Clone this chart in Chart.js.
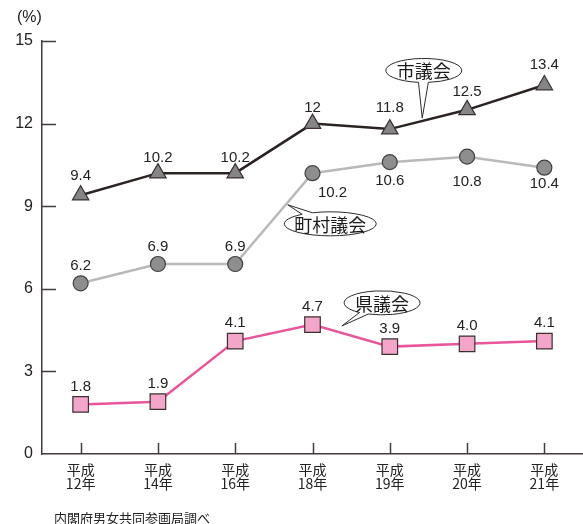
<!DOCTYPE html>
<html>
<head>
<meta charset="utf-8">
<script src="https://cdn.jsdelivr.net/npm/chart.js@4/dist/chart.umd.min.js"></script>
<style>
  html, body { margin: 0; padding: 0; background: #fff; }
</style>
</head>
<body>
<canvas id="c" width="583" height="524"></canvas>
<script>
const years = [['平成', '12年'], ['平成', '14年'], ['平成', '16年'], ['平成', '18年'], ['平成', '19年'], ['平成', '20年'], ['平成', '21年']];
const cityValues = [9.4, 10.2, 10.2, 12, 11.8, 12.5, 13.4];
const townValues = [6.2, 6.9, 6.9, 10.2, 10.6, 10.8, 10.4];
const prefValues = [1.8, 1.9, 4.1, 4.7, 3.9, 4.0, 4.1];
const yTicks = [0, 3, 6, 9, 12, 15];

const axisColor = '#453b3b';
const numFont = '"Liberation Sans", Arial, sans-serif';
const jpFont = '"Noto Sans CJK JP", sans-serif';

// callouts: label, centre (index, value), tip (index, value), half width
const callouts = [
    { text: '市議会', cx: 4.44, cy: 13.93, tx: 4.42, ty: 12.2, rx: 38 },
    { text: '町村議会', cx: 3.23, cy: 8.36, tx: 2.68, ty: 9.05, rx: 46 },
    { text: '県議会', cx: 3.9, cy: 5.49, tx: 3.38, ty: 4.65, rx: 38 }
];

const decor = {
    id: 'decor',
    beforeDatasetsDraw(chart) {
        const { ctx, chartArea, scales } = chart;
        ctx.save();
        ctx.strokeStyle = axisColor;
        ctx.lineWidth = 1.5;
        ctx.beginPath();
        yTicks.forEach(v => {
            if (v === 0) return;
            const y = Math.round(scales.y.getPixelForValue(v)) + 0.5;
            ctx.moveTo(chartArea.left, y);
            ctx.lineTo(chartArea.left + 14, y);
        });
        years.forEach((_, i) => {
            const x = Math.round(scales.x.getPixelForValue(i)) + 0.5;
            ctx.moveTo(x, chartArea.bottom);
            ctx.lineTo(x, chartArea.bottom - 11);
        });
        ctx.stroke();
        ctx.restore();
    },
    afterDatasetsDraw(chart) {
        const { ctx, scales } = chart;
        ctx.save();
        // value labels
        ctx.font = '15px ' + numFont;
        ctx.fillStyle = '#222';
        ctx.textAlign = 'center';
        ctx.textBaseline = 'middle';
        chart.data.datasets.forEach((ds, di) => {
            const meta = chart.getDatasetMeta(di);
            meta.data.forEach((pt, i) => {
                const v = ds.data[i];
                const txt = ds.fixed ? v.toFixed(1) : String(v);
                const off = ds.labelOffsets ? ds.labelOffsets[i] : [0, -18];
                ctx.fillText(txt, pt.x + off[0], pt.y + off[1]);
            });
        });
        // callout bubbles
        callouts.forEach(c => {
            const cx = scales.x.getPixelForValue(c.cx);
            const cy = scales.y.getPixelForValue(c.cy);
            const tx = scales.x.getPixelForValue(c.tx);
            const ty = scales.y.getPixelForValue(c.ty);
            const ry = 12;
            const ang = Math.atan2((ty - cy) / ry, (tx - cx) / c.rx);
            const a1 = ang - 0.13, a2 = ang + 0.13;
            ctx.beginPath();
            ctx.ellipse(cx, cy, c.rx, ry, 0, a2, a1 + Math.PI * 2);
            ctx.lineTo(tx, ty);
            ctx.closePath();
            ctx.fillStyle = '#fff';
            ctx.fill();
            ctx.strokeStyle = '#2a2a2a';
            ctx.lineWidth = 1;
            ctx.stroke();
            ctx.fillStyle = '#1a1a1a';
            ctx.font = '18px ' + jpFont;
            ctx.fillText(c.text, cx, cy + 1);
        });
        ctx.restore();
    },
    afterDraw(chart) {
        const { ctx } = chart;
        ctx.save();
        ctx.fillStyle = '#222';
        ctx.textBaseline = 'middle';
        ctx.font = '16px ' + numFont;
        ctx.fillText('(%)', 17, 18);
        ctx.font = '13px ' + jpFont;
        ctx.fillText('内閣府男女共同参画局調べ', 54, 518);
        ctx.restore();
    }
};

new Chart(document.getElementById('c'), {
    type: 'line',
    data: {
        labels: years,
        datasets: [{
            label: '県議会',
            data: prefValues,
            fixed: true,
            borderColor: '#e8559a',
            borderWidth: 2.5,
            pointStyle: 'rect',
            pointRadius: 11,
            pointBackgroundColor: '#f3a6c9',
            pointBorderColor: '#3a3030',
            pointBorderWidth: 1.2,
            tension: 0,
        }, {
            label: '町村議会',
            data: townValues,
            labelOffsets: [[0, -17], [0, -17], [0, -17], [20, 20], [0, 19], [0, 25], [0, 16]],
            borderColor: '#b9b9b9',
            borderWidth: 2.5,
            pointStyle: 'circle',
            pointRadius: 7.5,
            pointBackgroundColor: '#8e8e8e',
            pointBorderColor: '#404040',
            pointBorderWidth: 1.2,
            tension: 0,
        }, {
            label: '市議会',
            data: cityValues,
            labelOffsets: [[0, -19], [0, -15], [0, -15], [0, -16], [0, -21], [0, -18], [0, -20]],
            borderColor: '#2b2222',
            borderWidth: 2.5,
            pointStyle: 'triangle',
            pointRadius: 9.5,
            pointBackgroundColor: '#858585',
            pointBorderColor: '#3a3030',
            pointBorderWidth: 1.2,
            tension: 0,
        }]
    },
    options: {
        responsive: false,
        animation: false,
        clip: false,
        layout: { autoPadding: false, padding: { top: 41, left: 0, right: 0, bottom: 0 } },
        plugins: {
            legend: { display: false },
            tooltip: { enabled: false }
        },
        scales: {
            x: {
                offset: true,
                grid: { display: false, drawTicks: false },
                border: { display: true, color: axisColor, width: 1.5 },
                ticks: {
                    color: '#222',
                    padding: 8,
                    maxRotation: 0,
                    font: { family: jpFont, size: 14, lineHeight: 1.05 }
                },
                afterFit(scale) {
                    scale.height = 70;
                    scale.paddingLeft = 0;
                    scale.paddingRight = 0;
                }
            },
            y: {
                min: 0,
                max: 15,
                grid: { display: false, drawTicks: false },
                border: { display: true, color: axisColor, width: 1.5 },
                afterBuildTicks(scale) { scale.ticks = yTicks.map(v => ({ value: v })); },
                ticks: {
                    color: '#222',
                    padding: 9,
                    font: { family: numFont, size: 16 }
                },
                afterFit(scale) { scale.width = 42; }
            }
        }
    },
    plugins: [decor]
});
</script>
</body>
</html>
